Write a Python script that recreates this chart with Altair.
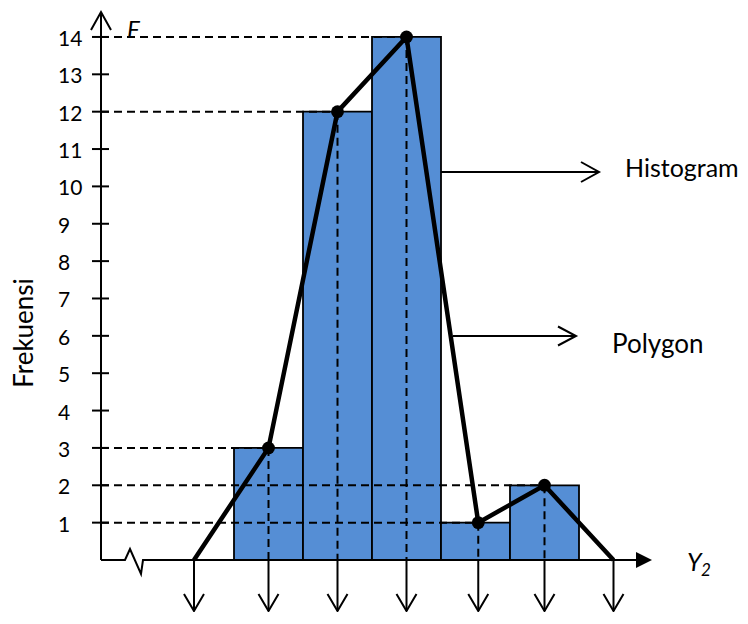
import altair as alt
import pandas as pd

# ---------------- data ----------------
bar_start = [0, 1, 2, 3, 4]          # class index (left edge of each bar)
bar_end = [1, 2, 3, 4, 5]            # class index (right edge of each bar)
frequency = [3, 12, 14, 1, 2]
polygon_x = [-0.58, 0.5, 1.5, 2.5, 3.54, 4.5, 5.5]
polygon_y = [0, 3, 12, 14, 1, 2, 0]
y_tick_values = list(range(1, 15))
y_tick_labels = [str(v) for v in y_tick_values]
y_title = "Frekuensi"
y_var = "F"
x_var = "Y"
x_sub = "2"
label_hist = "Histogram"
label_poly = "Polygon"

# ---------------- layout ----------------
W, H = 732, 604
X0, XS = 234.0, 69.0      # page px of x=0, px per class
Y0, YS = 560.0, 37.36     # page px of y=0, px per unit
BLUE = "#558ED5"
FONT = "Lato"


def X(p):
    return (p - X0) / XS


def Y(p):
    return (Y0 - p) / YS


xs = alt.Scale(domain=[X(8), X(8 + W)], nice=False, zero=False)
ys = alt.Scale(domain=[Y(8 + H), Y(8)], nice=False, zero=False)


def ex(f):
    return alt.X(f, type="quantitative", scale=xs, axis=None)


def ey(f):
    return alt.Y(f, type="quantitative", scale=ys, axis=None)


# bars
bars_df = pd.DataFrame({"x0": bar_start, "x1": bar_end, "f": frequency, "z": 0})
bars = alt.Chart(bars_df).mark_rect(fill=BLUE, stroke="black", strokeWidth=1.8).encode(
    x=ex("x0"), x2="x1", y=ey("z"), y2="f"
)

# dashed guide lines
inner_x = polygon_x[1:-1]
inner_y = polygon_y[1:-1]
dash_df = pd.DataFrame({"xa": [X(101)] * len(inner_x), "xe": inner_x, "y": inner_y, "z": 0})
hdash = alt.Chart(dash_df).mark_rule(color="black", strokeWidth=2, strokeDash=[8, 5]).encode(
    x=ex("xa"), x2="xe", y=ey("y")
)
vdash = alt.Chart(dash_df).mark_rule(color="black", strokeWidth=2, strokeDash=[8, 5]).encode(
    x=ex("xe"), y=ey("y"), y2="z"
)

# y axis line
yaxis_df = pd.DataFrame({"x": [X(101)], "y0": [0.0], "y1": [Y(13)]})
yaxis = alt.Chart(yaxis_df).mark_rule(color="black", strokeWidth=2).encode(
    x=ex("x"), y=ey("y0"), y2="y1"
)

# x axis polyline with break
xa_pts = [(101, 560), (125, 560), (130, 549), (141, 574), (143, 560), (640, 560)]
xaxis_df = pd.DataFrame({"x": [X(a) for a, b in xa_pts], "y": [Y(b) for a, b in xa_pts],
                         "o": list(range(len(xa_pts)))})
xaxis = alt.Chart(xaxis_df).mark_line(color="black", strokeWidth=2).encode(
    x=ex("x"), y=ey("y"), order="o"
)
tri_df = pd.DataFrame({"x": [X(644)], "y": [0.0]})
tri = alt.Chart(tri_df).mark_point(shape="M-1,-1L1,0L-1,1Z", filled=True, size=256,
                                   color="black", opacity=1).encode(x=ex("x"), y=ey("y"))

# y ticks
tick_df = pd.DataFrame({"xa": X(92), "xb": X(109), "v": y_tick_values, "lab": y_tick_labels,
                        "xl": X(58)})
ticks = alt.Chart(tick_df).mark_rule(color="black", strokeWidth=2).encode(
    x=ex("xa"), x2="xb", y=ey("v")
)
tick_labels = alt.Chart(tick_df).mark_text(
    align="left", baseline="alphabetic", dy=9, font=FONT, fontSize=21, color="black"
).encode(x=ex("xl"), y=ey("v"), text="lab")

# down arrows
TIP = 611
down_df = pd.DataFrame({"x": polygon_x, "y0": 0.0, "y1": Y(TIP)})
down = alt.Chart(down_df).mark_rule(color="black", strokeWidth=2).encode(
    x=ex("x"), y=ey("y0"), y2="y1"
)

# arrowheads (open V shapes)
rows = []
g = 0
for xv in polygon_x:
    px = X0 + XS * xv
    for o, (a, b) in enumerate([(px - 10, TIP - 17), (px, TIP), (px + 10, TIP - 17)]):
        rows.append({"x": X(a), "y": Y(b), "g": g, "o": o})
    g += 1
for o, (a, b) in enumerate([(91, 30), (101, 12), (111, 30)]):
    rows.append({"x": X(a), "y": Y(b), "g": g, "o": o})
g += 1
for o, (a, b) in enumerate([(581, 162), (599, 172), (581, 182)]):
    rows.append({"x": X(a), "y": Y(b), "g": g, "o": o})
g += 1
for o, (a, b) in enumerate([(558, 326.5), (576, 336), (558, 345.5)]):
    rows.append({"x": X(a), "y": Y(b), "g": g, "o": o})
heads_df = pd.DataFrame(rows)
heads = alt.Chart(heads_df).mark_line(color="black", strokeWidth=2).encode(
    x=ex("x"), y=ey("y"), detail="g:N", order="o"
)

# annotation arrow shafts
ann_df = pd.DataFrame({"xa": [X(441), X(453)], "xb": [X(599), X(576)], "y": [Y(172), Y(336)]})
ann = alt.Chart(ann_df).mark_rule(color="black", strokeWidth=2).encode(
    x=ex("xa"), x2="xb", y=ey("y")
)

# frequency polygon
poly_df = pd.DataFrame({"x": polygon_x, "y": polygon_y, "o": list(range(len(polygon_x)))})
poly = alt.Chart(poly_df).mark_line(color="black", strokeWidth=4.5).encode(
    x=ex("x"), y=ey("y"), order="o"
)
dots = alt.Chart(poly_df.iloc[1:-1]).mark_circle(size=165, color="black", opacity=1).encode(
    x=ex("x"), y=ey("y")
)

# texts
hist_lbl = alt.Chart(pd.DataFrame({"x": [X(625)], "y": [Y(177)], "t": [label_hist]})).mark_text(
    align="left", baseline="alphabetic", font=FONT, fontSize=25, color="black"
).encode(x=ex("x"), y=ey("y"), text="t")
poly_lbl = alt.Chart(pd.DataFrame({"x": [X(612)], "y": [Y(353)], "t": [label_poly]})).mark_text(
    align="left", baseline="alphabetic", font=FONT, fontSize=26, color="black"
).encode(x=ex("x"), y=ey("y"), text="t")

ytitle = alt.Chart(pd.DataFrame({"x": [X(25)], "y": [Y(333)], "t": [y_title]})).mark_text(
    angle=270, align="center", baseline="middle", font=FONT, fontSize=26, color="black"
).encode(x=ex("x"), y=ey("y"), text="t")

fvar = alt.Chart(pd.DataFrame({"x": [X(127)], "y": [Y(38)], "t": [y_var]})).mark_text(
    align="left", baseline="alphabetic", font=FONT, fontSize=24, fontStyle="italic", color="black"
).encode(x=ex("x"), y=ey("y"), text="t")

yvar = alt.Chart(pd.DataFrame({"x": [X(687)], "y": [Y(571)], "t": [x_var]})).mark_text(
    align="left", baseline="alphabetic", font=FONT, fontSize=25, fontStyle="italic", color="black"
).encode(x=ex("x"), y=ey("y"), text="t")

ysub = alt.Chart(pd.DataFrame({"x": [X(701)], "y": [Y(576)], "t": [x_sub]})).mark_text(
    align="left", baseline="alphabetic", font=FONT, fontSize=17, fontStyle="italic", color="black"
).encode(x=ex("x"), y=ey("y"), text="t")

chart = alt.layer(
    bars, hdash, vdash, yaxis, xaxis, tri, ticks, tick_labels, down, heads, ann,
    poly, dots, hist_lbl, poly_lbl, ytitle, fvar, yvar, ysub
).properties(
    width=W, height=H, padding=0, autosize=alt.AutoSizeParams(type="none")
).configure_view(stroke=None)

chart.save("out.html", embed_options={"renderer": "svg", "actions": False})
